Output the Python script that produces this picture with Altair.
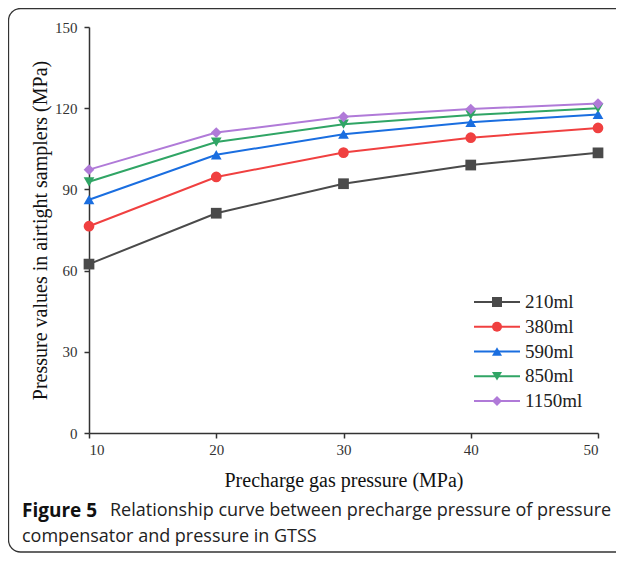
import altair as alt
import pandas as pd

# ---- data ----
precharge = [10, 20, 30, 40, 50]
series_names = ["210ml", "380ml", "590ml", "850ml", "1150ml"]
s210 = [62.4, 81.2, 92.1, 99.0, 103.5]
s380 = [76.4, 94.6, 103.6, 109.1, 112.7]
s590 = [86.2, 102.8, 110.4, 114.8, 117.7]
s850 = [92.8, 107.5, 114.1, 117.5, 120.0]
s1150 = [97.3, 111.0, 116.8, 119.7, 121.7]
colors = ["#4a4a4a", "#f04040", "#1a6ee0", "#30a565", "#b07ad8"]
shapes = ["square", "circle", "triangle-up", "triangle-down", "diamond"]
y_ticks = [0, 30, 60, 90, 120, 150]
x_ticks = [10, 20, 30, 40, 50]

rows = []
for name, vals in zip(series_names, [s210, s380, s590, s850, s1150]):
    for xv, yv in zip(precharge, vals):
        rows.append({"series": name, "x": xv, "y": yv})
df = pd.DataFrame(rows)
legend_df = pd.DataFrame({"series": series_names})

W, H = 509, 406
SERIF = "Liberation Serif"
SANS = "Open Sans"

color_scale = alt.Scale(domain=series_names, range=colors)
shape_scale = alt.Scale(domain=series_names, range=shapes)

x_enc = alt.X("x:Q", scale=alt.Scale(domain=[10, 50], nice=False),
              axis=alt.Axis(values=x_ticks, title="Precharge gas pressure (MPa)",
                            titleX=W / 2, titleY=47, titleBaseline="middle",
                            labelPadding=4, format="d"))
y_enc = alt.Y("y:Q", scale=alt.Scale(domain=[0, 150], nice=False),
              axis=alt.Axis(values=y_ticks, title="Pressure values in airtight samplers (MPa)",
                            titleX=-49, titleY=H / 2, titleAngle=270, titleAlign="center",
                            titleBaseline="middle", labelPadding=7, format="d"))

base = alt.Chart(df)
lines = base.mark_line(strokeWidth=2).encode(
    x=x_enc, y=y_enc,
    color=alt.Color("series:N", scale=color_scale, legend=None),
    detail="series:N",
)
points = base.mark_point(filled=True, size=115, opacity=1).encode(
    x="x:Q", y="y:Q",
    color=alt.Color("series:N", scale=color_scale, legend=None),
    shape=alt.Shape("series:N", scale=shape_scale, legend=None),
)
main = alt.layer(lines, points)

# ---- manual legend (line through marker) ----
ly = alt.Y("series:N", scale=alt.Scale(type="point", domain=series_names, range=[275, 374], padding=0), axis=None)
lbase = alt.Chart(legend_df)
leg_rule = lbase.mark_rule(strokeWidth=2).encode(
    x=alt.value(385), x2=alt.value(431), y=ly,
    color=alt.Color("series:N", scale=color_scale, legend=None),
)
leg_pt = lbase.mark_point(filled=True, size=100, opacity=1).encode(
    x=alt.value(408), y=ly,
    color=alt.Color("series:N", scale=color_scale, legend=None),
    shape=alt.Shape("series:N", scale=shape_scale, legend=None),
)
leg_txt = lbase.mark_text(align="left", baseline="middle", font=SERIF, fontSize=19, color="#222").encode(
    x=alt.value(436), y=ly, text="series:N",
)
legend = alt.layer(leg_rule, leg_pt, leg_txt)

# ---- frame and caption ----
one = alt.Data(values=[{}])
frame = alt.Chart(one).mark_rect(fillOpacity=0, stroke="#333333", strokeWidth=1.3, cornerRadius=12).encode(
    x=alt.value(-80.5), x2=alt.value(545), y=alt.value(-18.5), y2=alt.value(525),
)
cap1a = alt.Chart(one).mark_text(align="left", baseline="middle", font=SANS, fontSize=19,
                                  fontWeight="bold", color="#111").encode(
    x=alt.value(-67), y=alt.value(484), text=alt.value("Figure 5"))
cap1b = alt.Chart(one).mark_text(align="left", baseline="middle", font=SANS, fontSize=18,
                                  color="#222").encode(
    x=alt.value(21), y=alt.value(484),
    text=alt.value("Relationship curve between precharge pressure of pressure"))
cap2 = alt.Chart(one).mark_text(align="left", baseline="middle", font=SANS, fontSize=18,
                                 color="#222").encode(
    x=alt.value(-67), y=alt.value(510), text=alt.value("compensator and pressure in GTSS"))

chart = alt.layer(main, legend, frame, cap1a, cap1b, cap2).resolve_scale(y="independent").properties(
    width=W, height=H,
    autosize=alt.AutoSizeParams(type="none"),
    padding={"left": 81, "top": 19, "right": 18, "bottom": 120},
).configure_view(strokeWidth=0).configure_axis(
    domainColor="#333333", tickColor="#333333", domainWidth=1.5, tickWidth=1.5, tickSize=5,
    grid=False, labelFont=SERIF, labelFontSize=15, labelColor="#333333",
    titleFont=SERIF, titleFontSize=20, titleColor="#111111", titleFontWeight="normal",
)

chart.save("out.html", embed_options={"renderer": "svg", "actions": False})
